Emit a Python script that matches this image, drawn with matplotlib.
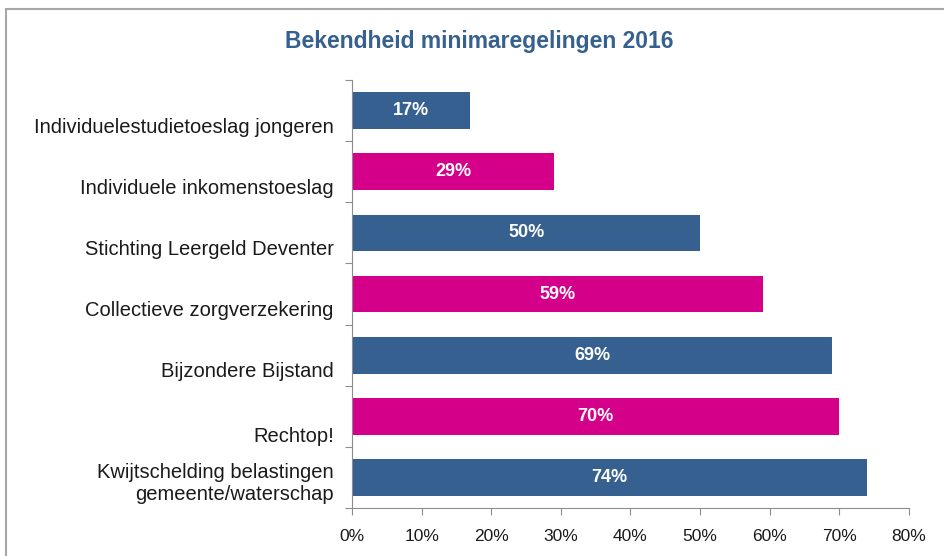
import matplotlib
matplotlib.use("Agg")
import matplotlib.pyplot as plt
from matplotlib.patches import Rectangle

# data, top to bottom
categories = ["Individuelestudietoeslag jongeren",
              "Individuele inkomenstoeslag",
              "Stichting Leergeld Deventer",
              "Collectieve zorgverzekering",
              "Bijzondere Bijstand",
              "Rechtop!",
              "Kwijtschelding belastingen\ngemeente/waterschap"]
values = [17, 29, 50, 59, 69, 70, 74]
xticks = [0, 10, 20, 30, 40, 50, 60, 70, 80]

blue = "#35608f"
pink = "#d5008a"
colors = [blue if i % 2 == 0 else pink for i in range(len(values))]

plt.rcParams['font.family'] = ['Liberation Sans', 'DejaVu Sans']

fig = plt.figure(figsize=(9.44, 5.56), dpi=100)
ax = fig.add_axes([0.3729, 0.0863, 0.59, 0.7698])

# outer frame like the excel chart area
fig.patches.append(Rectangle((6/944, -0.1), 1.2, 0.1 + 1 - 9/556, transform=fig.transFigure,
                             fill=False, edgecolor="#a6a6a6", linewidth=1.5))

ypos = list(range(len(values)))
ax.barh(ypos, values, height=0.6, color=colors)
ax.set_ylim(len(values) - 0.5, -0.5)
ax.set_xlim(0, 80)

for y, v in zip(ypos, values):
    ax.text(v / 2, y, f"{v}%", color="white", fontsize=13, fontweight="bold",
            ha="center", va="center")

# category labels (sit a bit below bar centre, like the original)
ax.set_yticks([i - 0.5 for i in range(len(values) + 1)])
ax.set_yticklabels([])
for y, name in zip(ypos, categories):
    off = 0.1 if "\n" in name else 0.27
    if name == "Rechtop!":
        off = 0.33
    ax.text(-0.033, y + off, name, transform=ax.get_yaxis_transform(),
            ha="right", va="center", fontsize=14.5, color="#1a1a1a", linespacing=1.2)

ax.set_xticks(xticks)
ax.set_xticklabels([f"{t}%" for t in xticks], fontsize=12.5, color="#1a1a1a")
ax.tick_params(axis="x", length=5, color="#8c8c8c", pad=10)
ax.tick_params(axis="y", length=5, color="#8c8c8c")

for s in ["top", "right"]:
    ax.spines[s].set_visible(False)
for s in ["left", "bottom"]:
    ax.spines[s].set_color("#8c8c8c")

fig.text(0.508, 0.925, "Bekendheid minimaregelingen 2016", ha="center", va="center",
         fontsize=16.5, fontweight="bold", color="#35608f")

fig.savefig("out.png", dpi=100)
